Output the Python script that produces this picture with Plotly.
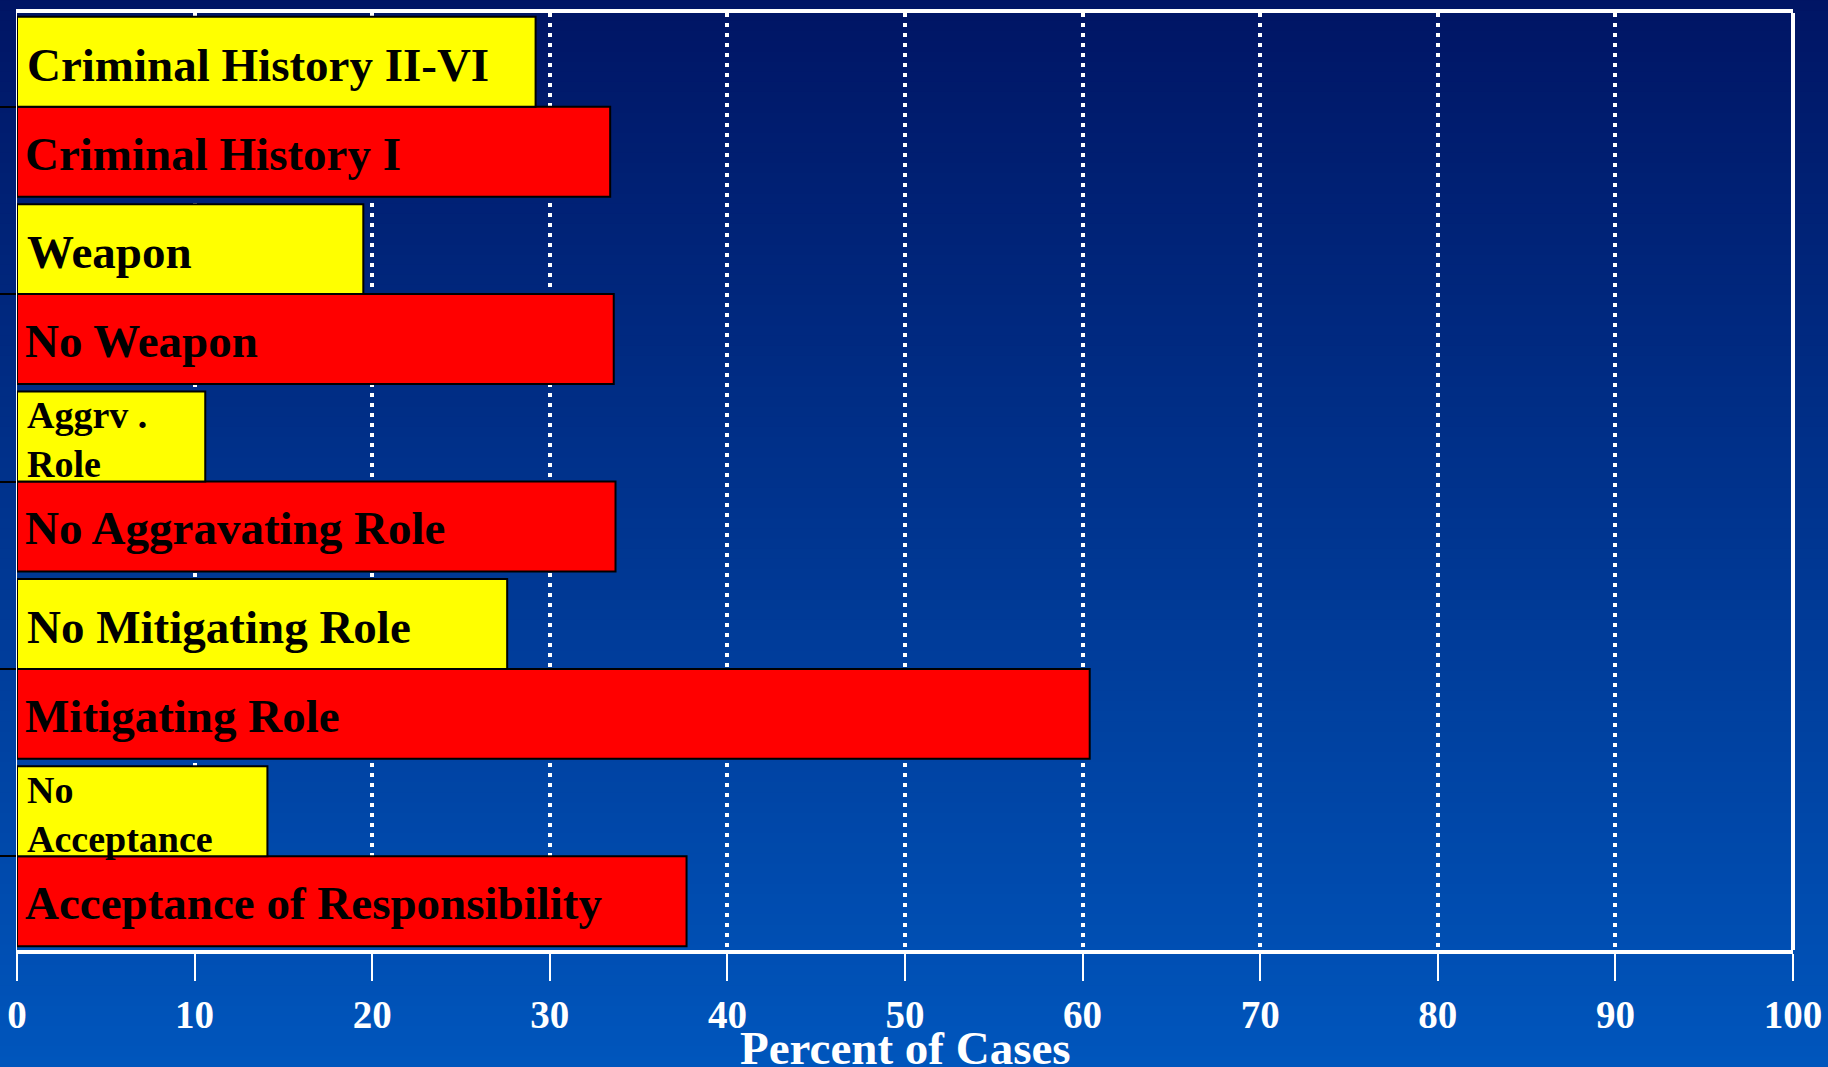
import plotly.graph_objects as go

# ---- data (top-to-bottom order as drawn) ----
yellow_labels = ["Criminal History II-VI", "Weapon", "Aggrv .<br>Role", "No Mitigating Role", "No<br>Acceptance"]
yellow_values = [29.2, 19.5, 10.6, 27.6, 14.1]
red_labels = ["Criminal History I", "No Weapon", "No Aggravating Role", "Mitigating Role", "Acceptance of Responsibility"]
red_values = [33.4, 33.6, 33.7, 60.4, 37.7]
x_ticks = [0, 10, 20, 30, 40, 50, 60, 70, 80, 90, 100]
x_title = "Percent of Cases"

n = len(red_values)
ypos = [n - 1 - i for i in range(n)]
BARGAP = 0.04
half = (1 - BARGAP) / 4.0  # offset of each bar centre from group centre

FONT = "Liberation Serif, Times New Roman, serif"

fig = go.Figure()
fig.add_trace(go.Bar(
    y=ypos, x=red_values, orientation="h", name="red",
    marker=dict(color="#FF0000", line=dict(color="black", width=2)),
    hoverinfo="x",
))
fig.add_trace(go.Bar(
    y=ypos, x=yellow_values, orientation="h", name="yellow",
    marker=dict(color="#FFFF00", line=dict(color="black", width=2)),
    hoverinfo="x",
))

annotations = []
for lab, yp in zip(red_labels, ypos):
    annotations.append(dict(
        x=0, y=yp - half, xref="x", yref="y", text=lab, showarrow=False,
        xanchor="left", yanchor="middle", xshift=6, yshift=-2, align="left",
        font=dict(family=FONT, size=47, color="black", weight="bold"),
    ))
for lab, yp in zip(yellow_labels, ypos):
    two = "<br>" in lab
    annotations.append(dict(
        x=0, y=yp + half, xref="x", yref="y", text=lab, showarrow=False,
        xanchor="left", yanchor="middle", xshift=8, yshift=-3, align="left",
        font=dict(family=FONT, size=38 if two else 47, color="black", weight="bold"),
    ))
annotations.append(dict(
    x=0.5, y=-0.1249, xref="paper", yref="paper", text=x_title, showarrow=False,
    xanchor="center", yanchor="bottom", yshift=-9,
    font=dict(family=FONT, size=47, color="white", weight="bold"),
))

# background gradient strips
shapes = []
N = 120
top = (0, 16, 94)
bot = (0, 90, 194)
y_lo, y_hi = -0.2, 1.1
for k in range(N):
    t = k / (N - 1)
    c = tuple(round(top[j] + (bot[j] - top[j]) * t) for j in range(3))
    y1 = y_hi - (y_hi - y_lo) * k / N
    y0 = y_hi - (y_hi - y_lo) * (k + 1) / N - 0.002
    shapes.append(dict(
        type="rect", xref="paper", yref="paper", x0=-0.1, x1=1.1, y0=y0, y1=y1,
        fillcolor="rgb(%d,%d,%d)" % c, line=dict(width=0), layer="below",
    ))
# right border
shapes.append(dict(type="line", xref="paper", yref="paper", x0=1, x1=1, y0=0, y1=1,
                   line=dict(color="white", width=4), layer="above"))

fig.update_layout(
    width=1828, height=1067,
    margin=dict(l=17, r=35, t=13, b=117, autoexpand=False),
    paper_bgcolor="rgb(0,60,150)",
    plot_bgcolor="rgba(0,0,0,0)",
    barmode="group", bargap=BARGAP, bargroupgap=0,
    showlegend=False,
    annotations=annotations,
    shapes=shapes,
    xaxis=dict(
        range=[0, 100], tickvals=x_ticks, ticktext=[str(v) for v in x_ticks],
        showgrid=True, gridcolor="white", gridwidth=4, griddash="4px,6px",
        zeroline=False, showline=True, linecolor="white", linewidth=4, mirror=True,
        ticks="outside", ticklen=27, tickwidth=2, tickcolor="white",
        tickfont=dict(family=FONT, size=39, color="white", weight="bold"),
        ticklabelstandoff=0, automargin=False,
    ),
    yaxis=dict(
        range=[-0.5, n - 0.5], tickvals=ypos, showticklabels=False,
        showgrid=False, zeroline=False, showline=True, linecolor="white", linewidth=1,
        ticks="outside", ticklen=17, tickwidth=2, tickcolor="black", automargin=False,
    ),
)

fig.write_html(
    "out.html",
    config={"displayModeBar": False},
    post_script="document.body.style.margin='0';document.body.style.overflow='hidden';",
)
